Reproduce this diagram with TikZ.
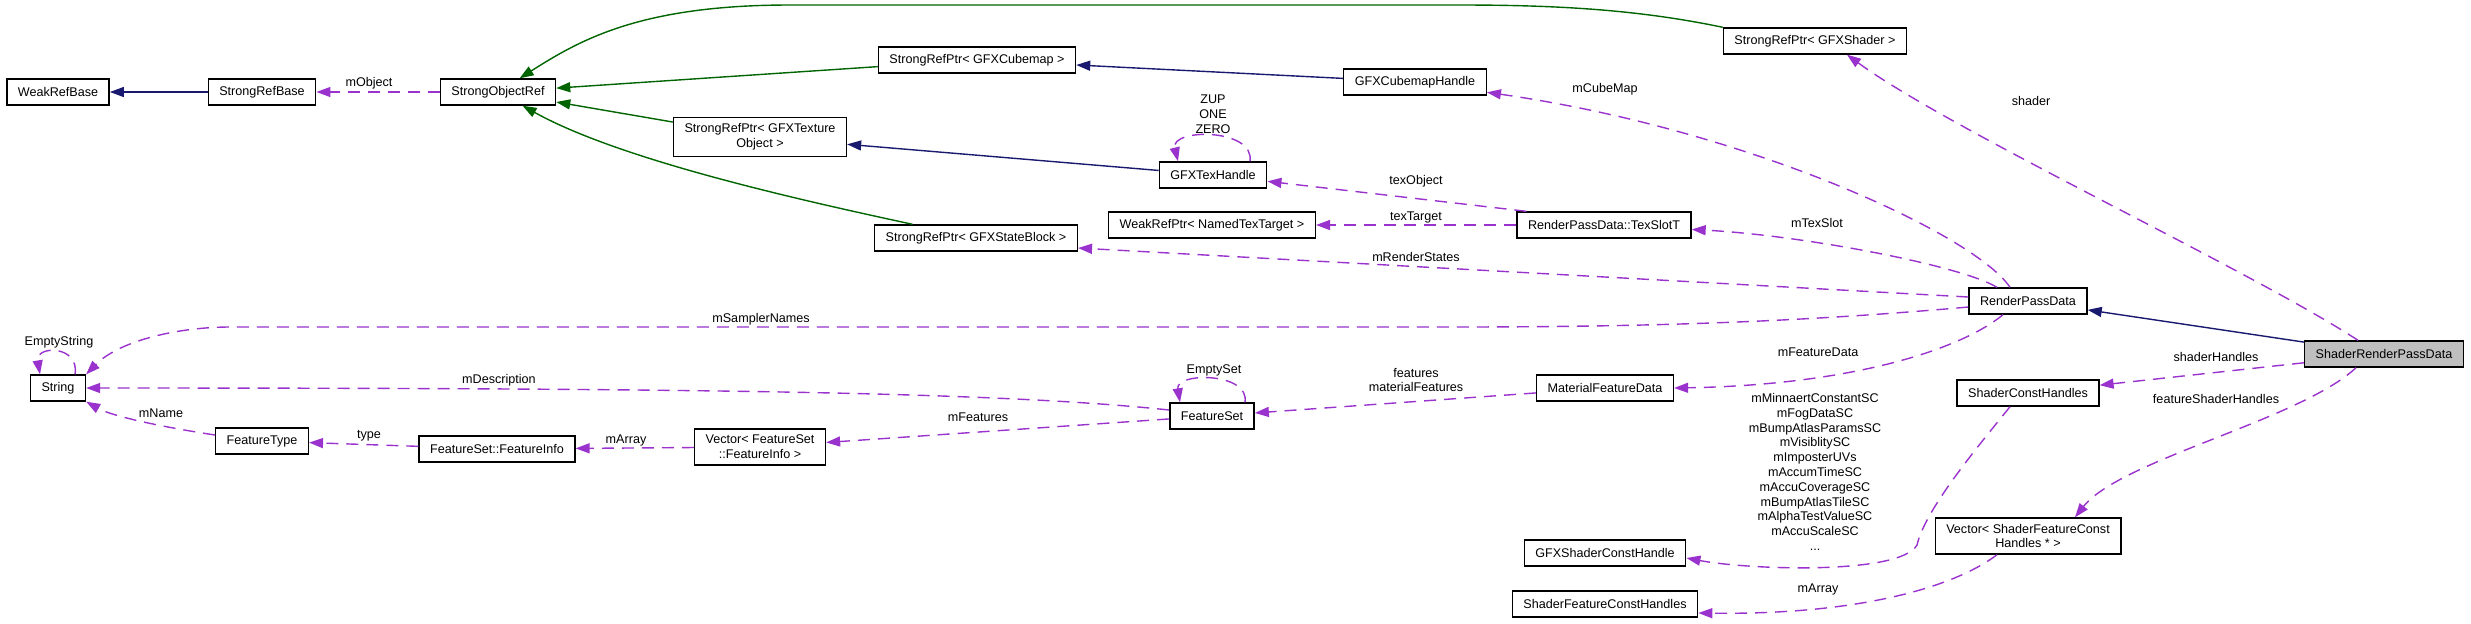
\documentclass[tikz,border=0pt]{standalone}
\usepackage{fontspec}
\setmainfont{Liberation Sans}
\usepackage{xcolor}
\usepackage{tikz}
\usetikzlibrary{arrows.meta}
\definecolor{inhgreen}{HTML}{006400}
\definecolor{pubnavy}{HTML}{191970}
\definecolor{usepurple}{HTML}{9A32CD}
\definecolor{focusgray}{HTML}{BFBFBF}

\begin{document}
\begin{tikzpicture}[
  x=0.5pt,y=-0.5pt,
  every node/.style={font=\fontsize{6.3}{7.4}\selectfont,align=center},
  cls/.style={draw=black,line width=0.7pt,fill=white,inner xsep=5.5pt,inner ysep=3pt,minimum height=13pt},
  focus/.style={cls,fill=focusgray},
  lbl/.style={inner sep=0pt},
  inh/.style={-{Triangle[length=7pt,width=5pt]},line width=0.7pt,color=inhgreen},
  pub/.style={-{Triangle[length=7pt,width=5pt]},line width=0.7pt,color=pubnavy},
  usage/.style={-{Triangle[length=7pt,width=5pt]},line width=0.7pt,color=usepurple,dash pattern=on 6pt off 4pt}
]
\useasboundingbox (0,0) rectangle (2471,623);
\node[cls] (weakbase) at (58,92) {WeakRefBase};
\node[cls] (strongbase) at (262,92) {StrongRefBase};
\node[cls] (strongobj) at (498,92) {StrongObjectRef};
\node[cls] (ptrcube) at (977,60) {StrongRefPtr< GFXCubemap >};
\node[cls] (cubehandle) at (1415,82) {GFXCubemapHandle};
\node[cls] (ptrshader) at (1815,41) {StrongRefPtr< GFXShader >};
\node[cls] (ptrtex) at (760,137) {StrongRefPtr< GFXTexture\\Object >};
\node[cls] (texhandle) at (1213,175) {GFXTexHandle};
\node[cls] (weaktarget) at (1212,225) {WeakRefPtr< NamedTexTarget >};
\node[cls] (texslot) at (1604,225) {RenderPassData::TexSlotT};
\node[cls] (ptrstate) at (976,238) {StrongRefPtr< GFXStateBlock >};
\node[cls] (rpd) at (2028,301) {RenderPassData};
\node[focus] (srpd) at (2384,354) {ShaderRenderPassData};
\node[cls] (str) at (58,388) {String};
\node[cls] (ftype) at (262,441) {FeatureType};
\node[cls] (finfo) at (497,449) {FeatureSet::FeatureInfo};
\node[cls] (finfovec) at (760,447) {Vector< FeatureSet\\::FeatureInfo >};
\node[cls] (fset) at (1212,416) {FeatureSet};
\node[cls] (matdata) at (1605,388) {MaterialFeatureData};
\node[cls] (consthandles) at (2028,393) {ShaderConstHandles};
\node[cls] (fconstvec) at (2028,536) {Vector< ShaderFeatureConst\\Handles * >};
\node[cls] (gfxconst) at (1605,553) {GFXShaderConstHandle};
\node[cls] (fconsthandles) at (1605,604) {ShaderFeatureConstHandles};

\node[lbl] (lobject) at (369,83) {mObject};
\node[lbl] (lzup) at (1213,114) {ZUP\\ONE\\ZERO};
\node[lbl] (lemptystr) at (59,342) {EmptyString};
\node[lbl] (lemptyset) at (1214,370) {EmptySet};
\node[lbl] (ltexobj) at (1416,181) {texObject};
\node[lbl] (ltextarget) at (1416,217) {texTarget};
\node[lbl] (lcube) at (1605,89) {mCubeMap};
\node[lbl] (lshader) at (2031,101) {shader};
\node[lbl] (ltexslot) at (1817,223) {mTexSlot};
\node[lbl] (lstates) at (1416,257) {mRenderStates};
\node[lbl] (lsampler) at (761,319) {mSamplerNames};
\node[lbl] (ldesc) at (499,380) {mDescription};
\node[lbl] (lname) at (161,413) {mName};
\node[lbl] (ltype) at (369,436) {type};
\node[lbl] (larray) at (626,440) {mArray};
\node[lbl] (lfeatures) at (978,417) {mFeatures};
\node[lbl] (lmatfeat) at (1416,380) {features\\materialFeatures};
\node[lbl] (lfeatdata) at (1818,352) {mFeatureData};
\node[lbl] (lhandles) at (2216,357) {shaderHandles};
\node[lbl] (lfhandles) at (2216,399) {featureShaderHandles};
\node[lbl] (lconsts) at (1815,472) {mMinnaertConstantSC\\mFogDataSC\\mBumpAtlasParamsSC\\mVisiblitySC\\mImposterUVs\\mAccumTimeSC\\mAccuCoverageSC\\mBumpAtlasTileSC\\mAlphaTestValueSC\\mAccuScaleSC\\...};
\node[lbl] (lfarray) at (1818,589) {mArray};

\draw[inh] (ptrshader.north west) .. controls (1640,10) and (1560,5) .. (1460,5) -- (790,5) .. controls (640,5) and (580,40) .. (strongobj);
\draw[inh] (ptrcube) -- (strongobj);
\draw[inh] (ptrtex) -- (strongobj);
\draw[inh] (ptrstate) .. controls (800,200) and (620,160) .. (strongobj);
\draw[pub] (strongbase) -- (weakbase);
\draw[pub] (cubehandle) -- (ptrcube);
\draw[pub] (texhandle) -- (ptrtex);
\draw[pub] (srpd) -- (rpd);
\draw[usage] (strongobj) -- (strongbase);
\draw[usage] ([shift={(37,0)}]texhandle.north) .. controls (1255,128) and (1170,128) .. ([shift={(-35,0)}]texhandle.north);
\draw[usage] ([shift={(17,0)}]str.north) .. controls (80,345) and (35,345) .. ([shift={(-18,0)}]str.north);
\draw[usage] ([shift={(33,0)}]fset.north) .. controls (1250,372) and (1175,372) .. ([shift={(-32,0)}]fset.north);
\draw[usage] ([shift={(-18,0)}]rpd.north) .. controls (1975,235) and (1750,130) .. (cubehandle);
\draw[usage] ([shift={(-31,0)}]rpd.north) .. controls (1960,265) and (1800,235) .. (texslot);
\draw[usage] ([shift={(10,0)}]texslot.north west) -- (texhandle);
\draw[usage] (texslot) -- (weaktarget);
\draw[usage] ([shift={(0,-4)}]rpd.west) -- ([shift={(0,10)}]ptrstate.east);
\draw[usage] ([shift={(0,6)}]rpd.west) .. controls (1800,322) and (1650,327) .. (1450,327) -- (230,327) .. controls (180,327) and (120,340) .. (str.north east);
\draw[usage] ([shift={(-25,0)}]rpd.south) .. controls (1960,350) and (1850,385) .. (matdata.east);
\draw[usage] (matdata) -- (fset);
\draw[usage] ([shift={(0,-6)}]fset.west) .. controls (1000,392) and (700,388) .. (str.east);
\draw[usage] (fset) -- (finfovec);
\draw[usage] (finfovec) -- (finfo);
\draw[usage] (finfo) -- (ftype);
\draw[usage] ([shift={(0,-6)}]ftype.west) .. controls (150,425) and (110,415) .. (str.south east);
\draw[usage] ([shift={(-26,0)}]srpd.north) .. controls (2250,270) and (1950,130) .. ([shift={(32,0)}]ptrshader.south);
\draw[usage] (srpd) -- (consthandles);
\draw[usage] ([shift={(-28,0)}]srpd.south) .. controls (2300,420) and (2120,460) .. ([shift={(47,0)}]fconstvec.north);
\draw[usage] ([shift={(-18,0)}]consthandles.south) .. controls (1975,450) and (1925,510) .. (1917,545) .. controls (1900,575) and (1750,570) .. ([shift={(0,5)}]gfxconst.east);
\draw[usage] ([shift={(-31,0)}]fconstvec.south) .. controls (1950,590) and (1850,615) .. ([shift={(0,9)}]fconsthandles.east);
\end{tikzpicture}
\end{document}
